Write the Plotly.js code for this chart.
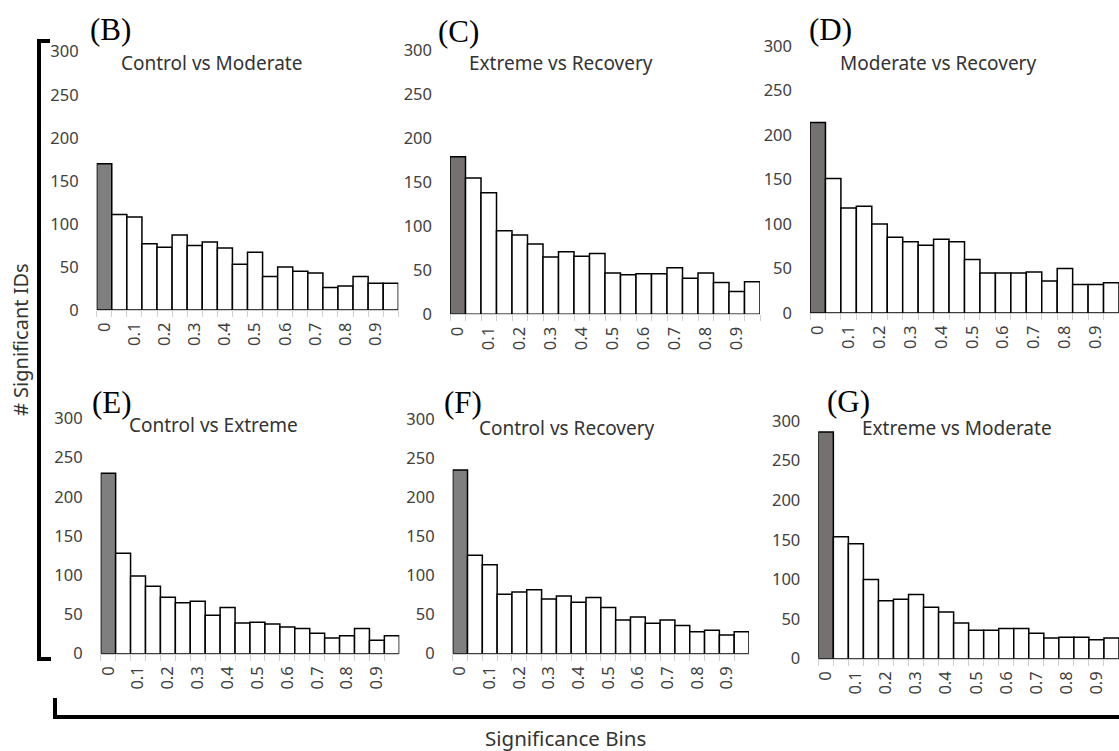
<!DOCTYPE html>
<html>
<head>
<meta charset="utf-8">
<script src="https://cdn.plot.ly/plotly-3.0.1.min.js"></script>
<style>html,body{margin:0;padding:0;background:#fff;}#chart{width:1119px;height:751px;}</style>
</head>
<body>
<div id="chart"></div>
<script>
// ---- data ----
const bins = ["0","0.05","0.1","0.15","0.2","0.25","0.3","0.35","0.4","0.45","0.5","0.55","0.6","0.65","0.7","0.75","0.8","0.85","0.9","0.95"];
const tickLabels = ["0","","0.1","","0.2","","0.3","","0.4","","0.5","","0.6","","0.7","","0.8","","0.9",""];
const yTicks = [0, 50, 100, 150, 200, 250, 300];

const controlVsModerate  = [170,111,108,77,73,87,75,79,72,53,67,39,50,45,43,26,28,39,31,31];
const extremeVsRecovery  = [179,155,138,95,90,80,65,71,66,69,47,45,46,46,53,41,47,36,26,37];
const moderateVsRecovery = [214,151,118,120,100,85,80,76,83,80,60,45,45,45,46,36,50,32,32,34];
const controlVsExtreme   = [230,128,99,86,72,65,67,49,59,39,40,38,34,32,26,20,23,32,17,23];
const controlVsRecovery  = [235,126,114,76,79,82,70,74,66,72,59,43,47,39,43,36,28,30,24,28];
const extremeVsModerate  = [286,154,145,100,73,75,81,65,59,45,36,36,38,38,32,26,27,27,24,26];

const panelTitles = ["Control vs Moderate","Extreme vs Recovery","Moderate vs Recovery","Control vs Extreme","Control vs Recovery","Extreme vs Moderate"];
const panelLetters = ["(B)","(C)","(D)","(E)","(F)","(G)"];
const series = [controlVsModerate, extremeVsRecovery, moderateVsRecovery, controlVsExtreme, controlVsRecovery, extremeVsModerate];

// ---- layout geometry (pixels) ----
const W = 1119, H = 751;
const px = v => v / W;
const py = v => 1 - v / H;
const boxes = [
  {x0: 96.7, x1: 398.3, yb: 310,   yt: 51.7, first: "#7f7f7f", lx: 110, ly: 30, tx: 211, ty: 63},
  {x0: 450,  x1: 760,   yb: 314.3, yt: 50.3, first: "#767171", lx: 458, ly: 32, tx: 561, ty: 63},
  {x0: 810,  x1: 1119,  yb: 313,   yt: 46,   first: "#767171", lx: 830, ly: 30, tx: 938, ty: 63},
  {x0: 100.7,x1: 399.3, yb: 653.7, yt: 418.3,first: "#7f7f7f", lx: 112, ly: 402, tx: 213, ty: 425},
  {x0: 452.7,x1: 749,   yb: 653.7, yt: 419.3,first: "#7f7f7f", lx: 463, ly: 402, tx: 567, ty: 428},
  {x0: 818.3,x1: 1119,  yb: 658.7, yt: 421,  first: "#767171", lx: 848, ly: 401, tx: 957, ty: 428}
];

const tickFont = {family: "Noto Sans, Open Sans, sans-serif", size: 16.5, color: "#404040"};
const traces = [];
const layout = {
  width: W, height: H,
  margin: {l: 0, r: 0, t: 0, b: 0},
  paper_bgcolor: "#fff", plot_bgcolor: "rgba(0,0,0,0)",
  showlegend: false, bargap: 0,
  annotations: [], shapes: []
};

series.forEach((vals, i) => {
  const b = boxes[i];
  const n = i === 0 ? "" : String(i + 1);
  traces.push({
    type: "bar", x: bins, y: vals,
    xaxis: "x" + n, yaxis: "y" + n,
    marker: {color: vals.map((v, k) => k === 0 ? b.first : "#ffffff"), line: {color: "#000", width: 1.5}},
    hoverinfo: "x+y"
  });
  layout["xaxis" + n] = {
    type: "category", domain: [px(b.x0), px(b.x1)], anchor: "y" + n,
    range: [-0.5, 19.5], fixedrange: true,
    tickmode: "array", tickvals: bins, ticktext: tickLabels,
    tickson: "boundaries", ticks: "outside", ticklen: 6, tickcolor: "#d0d0d0", tickwidth: 1,
    ticklabelstandoff: 5,
    showline: true, linecolor: "#d0d0d0", linewidth: 1,
    showgrid: false, zeroline: false, tickangle: -90,
    tickfont: tickFont
  };
  layout["yaxis" + n] = {
    domain: [py(b.yb), py(b.yt)], anchor: "x" + n,
    range: [0, 300], fixedrange: true,
    tickmode: "array", tickvals: yTicks,
    ticks: "", ticklabelstandoff: 17,
    showline: false, showgrid: false, zeroline: false,
    tickfont: tickFont
  };
  layout.annotations.push({
    xref: "paper", yref: "paper", x: px(b.lx), y: py(b.ly),
    text: panelLetters[i], showarrow: false, xanchor: "center", yanchor: "middle",
    font: {family: "Liberation Serif, Times New Roman, serif", size: 31, color: "#000"}
  });
  layout.annotations.push({
    xref: "paper", yref: "paper", x: px(b.tx), y: py(b.ty),
    text: panelTitles[i], showarrow: false, xanchor: "center", yanchor: "middle",
    font: {family: "Noto Sans, Open Sans, sans-serif", size: 19, color: "#333"}
  });
});

// Axis labels
layout.annotations.push({
  xref: "paper", yref: "paper", x: px(20), y: py(340),
  text: "# Significant IDs", showarrow: false, textangle: -90,
  xanchor: "center", yanchor: "middle",
  font: {family: "Noto Sans, Open Sans, sans-serif", size: 20, color: "#333"}
});
layout.annotations.push({
  xref: "paper", yref: "paper", x: px(565), y: py(738),
  text: "Significance Bins", showarrow: false,
  xanchor: "center", yanchor: "middle",
  font: {family: "Noto Sans, Open Sans, sans-serif", size: 20.5, color: "#333"}
});

// Brackets
const br = {type: "path", xref: "paper", yref: "paper", line: {color: "#000", width: 4}};
layout.shapes.push(Object.assign({}, br, {
  path: `M ${px(50)} ${py(41)} L ${px(39)} ${py(41)} L ${px(39)} ${py(659)} L ${px(51)} ${py(659)}`
}));
layout.shapes.push(Object.assign({}, br, {
  path: `M ${px(55)} ${py(698)} L ${px(55)} ${py(717)} L ${px(1122)} ${py(717)}`
}));

Plotly.newPlot("chart", traces, layout, {displayModeBar: false, staticPlot: true});
</script>
</body>
</html>
